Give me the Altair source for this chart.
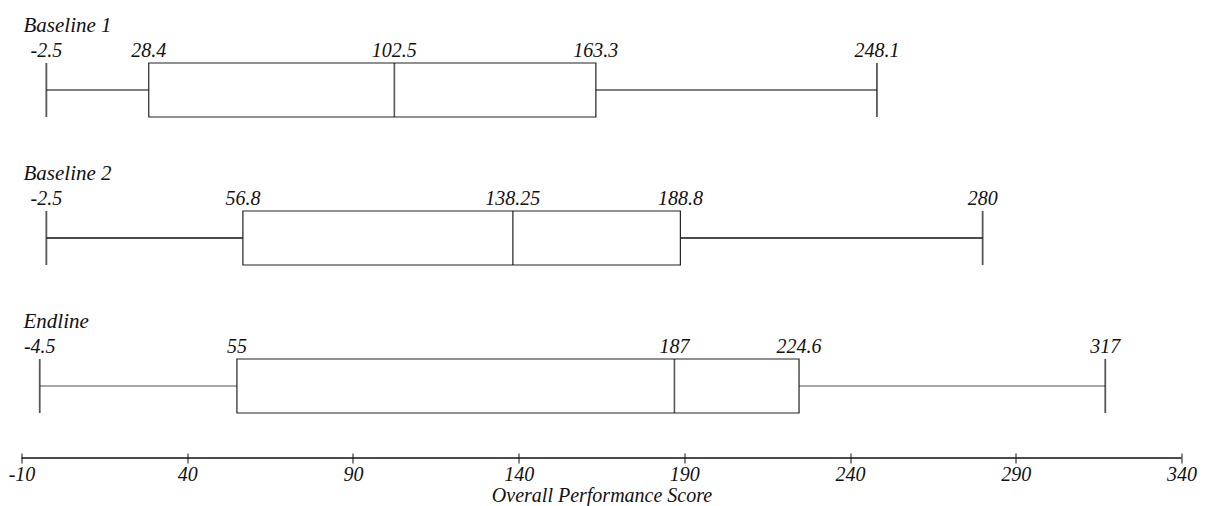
import altair as alt
import pandas as pd

groups = ["Baseline 1", "Baseline 2", "Endline"]
mins = [-2.5, -2.5, -4.5]
q1s = [28.4, 56.8, 55]
meds = [102.5, 138.25, 187]
q3s = [163.3, 188.8, 224.6]
maxs = [248.1, 280, 317]
whisker_colors = ["#555555", "#111111", "#8a8a8a"]
x_ticks = [-10, 40, 90, 140, 190, 240, 290, 340]

FONT = "Liberation Serif"

box_df = pd.DataFrame({"group": groups, "min": mins, "q1": q1s, "med": meds,
                       "q3": q3s, "max": maxs})

lab_rows = []
for g, a, b, c, d, e in zip(groups, mins, q1s, meds, q3s, maxs):
    for v in (a, b, c, d, e):
        lab_rows.append({"group": g, "v": v, "label": str(v)})
lab_df = pd.DataFrame(lab_rows)

axis_df = pd.DataFrame({"a": [x_ticks[0]], "b": [x_ticks[-1]]})

xscale = alt.Scale(domain=[x_ticks[0], x_ticks[-1]], nice=False, zero=False)
yscale = alt.Scale(domain=groups, range=[16, 460], paddingInner=0, paddingOuter=0)
yenc = alt.Y("group:N", scale=yscale, axis=None)

base = alt.Chart(box_df)

whisk = base.mark_rule(strokeWidth=1.3).encode(
    x=alt.X("min:Q", scale=xscale,
            axis=alt.Axis(values=x_ticks, title="Overall Performance Score",
                          domain=False, tickSize=10, tickColor="#111",
                          tickWidth=1, offset=-5, labelPadding=1,
                          labelExpr="'' + datum.value",
                          labelFont=FONT, labelFontStyle="italic",
                          labelFontSize=20, labelColor="#111",
                          titleFont=FONT, titleFontStyle="italic",
                          titleFontWeight="normal", titleFontSize=20,
                          titleColor="#111", titlePadding=1, grid=False,
                          labelFlush=False)),
    x2="max:Q",
    y=yenc,
    color=alt.Color("group:N", scale=alt.Scale(domain=groups, range=whisker_colors),
                    legend=None),
)

box = base.mark_bar(size=54, fill="white", stroke="#222", strokeWidth=1.2).encode(
    x=alt.X("q1:Q", scale=xscale), x2="q3:Q", y=yenc)

med = base.mark_tick(size=54, thickness=1.6, color="#111").encode(
    x=alt.X("med:Q", scale=xscale), y=yenc)

cap_lo = base.mark_tick(size=54, thickness=1.8, color="#111").encode(
    x=alt.X("min:Q", scale=xscale), y=yenc)
cap_hi = base.mark_tick(size=54, thickness=1.8, color="#111").encode(
    x=alt.X("max:Q", scale=xscale), y=yenc)

vals = alt.Chart(lab_df).mark_text(font=FONT, fontStyle="italic", fontSize=20,
                                   color="#111", align="center", baseline="alphabetic",
                                   dy=-33).encode(
    x=alt.X("v:Q", scale=xscale), y=yenc, text="label:N")

titles = base.mark_text(font=FONT, fontStyle="italic", fontSize=21, color="#111",
                        align="left", baseline="alphabetic", dy=-58).encode(
    x=alt.value(2), y=yenc, text="group:N")

axis_line = alt.Chart(axis_df).mark_rule(color="#111", strokeWidth=1.4).encode(
    x=alt.X("a:Q", scale=xscale), x2="b:Q", y=alt.value(458))

chart = alt.layer(whisk, box, med, cap_lo, cap_hi, vals, titles, axis_line).properties(
    width=1160, height=458,
    autosize=alt.AutoSizeParams(type="none"),
    padding={"left": 21.5, "top": 0, "right": 26, "bottom": 48},
    background="white",
).configure_view(stroke=None)

chart.save("out.html", embed_options={"renderer": "svg", "actions": False})
